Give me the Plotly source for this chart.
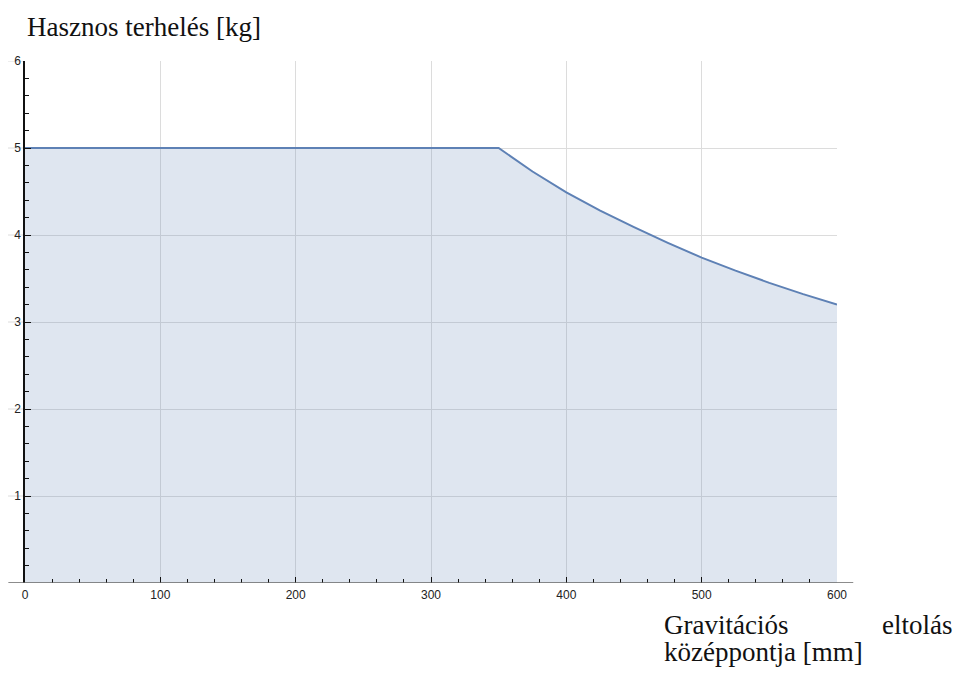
import plotly.graph_objects as go

# Data
offset_mm = [0, 350, 375, 400, 425, 450, 475, 500, 525, 550, 575, 600]
payload_kg = [5.0, 5.0, 4.73, 4.49, 4.28, 4.09, 3.91, 3.74, 3.59, 3.45, 3.32, 3.20]

x_ticks = [0, 100, 200, 300, 400, 500, 600]
y_ticks = [1, 2, 3, 4, 5, 6]

y_title = "Hasznos terhelés [kg]"
x_title_l1a = "Gravitációs"
x_title_l1b = "eltolás"
x_title_l2 = "középpontja [mm]"

line_col = "#5e81b5"
fill_col = "rgba(94,129,181,0.2)"
grid_col = "#dcdcdc"
tick_font = dict(family="Liberation Sans, Arial, sans-serif", size=12, color="#222")
title_font = dict(family="Liberation Serif, serif", size=27, color="#111")

fig = go.Figure()
fig.add_trace(go.Scatter(
    x=offset_mm, y=payload_kg, mode="lines",
    line=dict(color=line_col, width=2),
    fill="tozeroy", fillcolor=fill_col,
    hoverinfo="skip", showlegend=False,
))

# short gridline stubs left of the y axis (behind tick labels)
stubs = [dict(type="line", xref="paper", yref="y", x0=-0.021, x1=0, y0=v, y1=v,
              line=dict(color=grid_col, width=1), layer="below") for v in y_ticks]

fig.update_layout(
    width=959, height=672,
    margin=dict(l=16.5, r=130.3, t=52.7, b=96.7, autoexpand=False),
    plot_bgcolor="white", paper_bgcolor="white",
    xaxis=dict(
        range=[0, 600], tickvals=x_ticks, ticktext=[str(v) for v in x_ticks],
        showgrid=True, gridcolor=grid_col, gridwidth=1,
        zeroline=False, showline=False, automargin=False,
        ticks="inside", ticklen=6, tickwidth=1, tickcolor="#111",
        minor=dict(dtick=20, ticks="inside", ticklen=4, tickcolor="#111", showgrid=False),
        tickfont=tick_font, ticklabelstandoff=3,
    ),
    yaxis=dict(
        range=[0, 6], tickvals=y_ticks, ticktext=[str(v) for v in y_ticks],
        showgrid=True, gridcolor=grid_col, gridwidth=1,
        zeroline=False, showline=True, linecolor="#111", linewidth=1.5, automargin=False,
        ticks="inside", ticklen=6, tickwidth=1, tickcolor="#111",
        minor=dict(dtick=0.2, ticks="inside", ticklen=4, tickcolor="#111", showgrid=False),
        tickfont=tick_font, ticklabelstandoff=0,
    ),
    shapes=stubs + [
        dict(type="line", xref="paper", yref="y", x0=-0.0205, x1=1.020, y0=0, y1=0,
             line=dict(color="#666", width=1.5), layer="above"),
    ],
    annotations=[
        dict(text=y_title, xref="paper", yref="paper", x=0.0, y=1.0, xshift=0, yshift=34,
             xanchor="left", yanchor="middle", showarrow=False, font=title_font),
        dict(text=x_title_l1a, xref="paper", yref="paper", x=1.0, y=0.0, xshift=-175, yshift=-42,
             xanchor="left", yanchor="middle", showarrow=False, font=title_font),
        dict(text=x_title_l1b, xref="paper", yref="paper", x=1.0, y=0.0, xshift=117, yshift=-42,
             xanchor="right", yanchor="middle", showarrow=False, font=title_font),
        dict(text=x_title_l2, xref="paper", yref="paper", x=1.0, y=0.0, xshift=-175, yshift=-69,
             xanchor="left", yanchor="middle", showarrow=False, font=title_font),
    ],
)

fig.write_html("out.html")
